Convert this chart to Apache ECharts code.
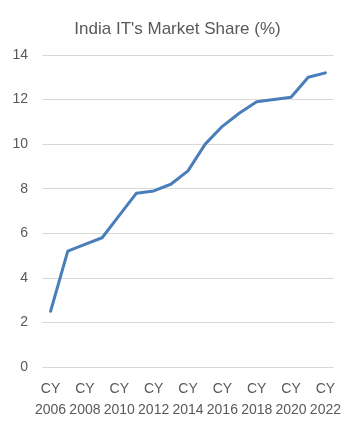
<!DOCTYPE html>
<html>
<head>
<meta charset="utf-8">
<script src="https://cdn.jsdelivr.net/npm/echarts@6/dist/echarts.min.js"></script>
<style>
html,body{margin:0;padding:0;background:#fff;}
#c{width:355px;height:427px;}
</style>
</head>
<body>
<div id="c"></div>
<script>
const categories = ['CY 2006','CY 2007','CY 2008','CY 2009','CY 2010','CY 2011','CY 2012','CY 2013','CY 2014','CY 2015','CY 2016','CY 2017','CY 2018','CY 2019','CY 2020','CY 2021','CY 2022'];
const marketShare = [2.5, 5.2, 5.5, 5.8, 6.8, 7.8, 7.9, 8.2, 8.8, 10.0, 10.8, 11.4, 11.9, 12.0, 12.1, 13.0, 13.2];
const yTicks = [0, 2, 4, 6, 8, 10, 12, 14];

const chart = echarts.init(document.getElementById('c'), null, {renderer: 'canvas'});
chart.setOption({
  animation: false,
  backgroundColor: '#ffffff',
  title: {
    text: "India IT's Market Share (%)",
    left: 'center',
    top: 16,
    textStyle: {fontFamily: 'Liberation Sans, Arial', fontSize: 17, fontWeight: 'normal', color: '#595959'}
  },
  grid: {left: 42, right: 21, top: 55, bottom: 60},
  xAxis: {
    type: 'category',
    data: categories,
    boundaryGap: true,
    axisLine: {show: false},
    axisTick: {show: false},
    axisLabel: {
      interval: 1,
      margin: 12,
      color: '#595959',
      fontFamily: 'Liberation Sans, Arial',
      fontSize: 14,
      lineHeight: 21,
      formatter: v => v.replace(' ', '\n')
    }
  },
  yAxis: {
    type: 'value',
    min: yTicks[0],
    max: yTicks[yTicks.length - 1],
    interval: 2,
    axisLine: {show: false},
    axisTick: {show: false},
    axisLabel: {color: '#595959', fontFamily: 'Liberation Sans, Arial', fontSize: 14, margin: 14},
    splitLine: {lineStyle: {color: '#d9d9d9', width: 1}}
  },
  series: [{
    type: 'line',
    data: marketShare,
    symbol: 'none',
    lineStyle: {color: '#4a7ebb', width: 3, cap: 'round', join: 'round'},
    itemStyle: {color: '#4a7ebb'}
  }]
});
</script>
</body>
</html>
